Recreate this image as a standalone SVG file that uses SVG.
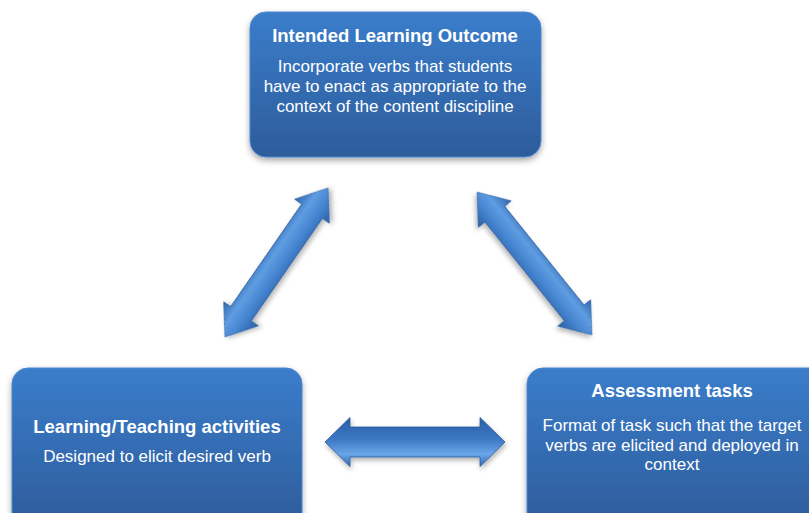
<svg xmlns="http://www.w3.org/2000/svg" width="809" height="513" viewBox="0 0 809 513">
  <defs>
    <linearGradient id="boxFill" x1="0" y1="0" x2="0" y2="1">
      <stop offset="0" stop-color="#3b7dcb"/>
      <stop offset="1" stop-color="#2d5c9b"/>
    </linearGradient>
    <linearGradient id="arrowFill" x1="0" y1="0" x2="0" y2="1">
      <stop offset="0" stop-color="#2e66ae"/>
      <stop offset="0.35" stop-color="#5f9de2"/>
      <stop offset="0.65" stop-color="#4584cf"/>
      <stop offset="1" stop-color="#2b5fa3"/>
    </linearGradient>
    <linearGradient id="arrowFillH" x1="0" y1="0" x2="0" y2="1">
      <stop offset="0" stop-color="#2a5ea6"/>
      <stop offset="0.45" stop-color="#3c78c4"/>
      <stop offset="0.75" stop-color="#6ba6e8"/>
      <stop offset="1" stop-color="#2f66ae"/>
    </linearGradient>
    <filter id="shadow" x="-10%" y="-10%" width="120%" height="125%">
      <feDropShadow dx="0" dy="3" stdDeviation="3" flood-color="#000" flood-opacity="0.35"/>
    </filter>
    <filter id="arrowShadow" x="-20%" y="-20%" width="140%" height="140%">
      <feDropShadow dx="1" dy="3" stdDeviation="2.5" flood-color="#000" flood-opacity="0.3"/>
    </filter>
  </defs>
  <style>
    .box { fill: url(#boxFill); stroke: #4a86cf; stroke-width: 1; filter: url(#shadow); }
    .title { font-family: "Liberation Sans", Arial, sans-serif; font-weight: bold; font-size: 18.5px; fill: #ffffff; text-anchor: middle; }
    .body { font-family: "Liberation Sans", Arial, sans-serif; font-size: 17px; fill: #ffffff; text-anchor: middle; }
    .arrow { fill: url(#arrowFill); stroke: #2a5d9f; stroke-width: 0.8; filter: url(#arrowShadow); }
    .arrowH { fill: url(#arrowFillH); stroke: #2a5d9f; stroke-width: 0.8; filter: url(#arrowShadow); }
  </style>

  <g id="connectors">
    <!-- outcome <-> activities -->
    <polygon class="arrow" transform="translate(276.5,262.5) rotate(-55.3)"
      points="-90.5,0 -62.5,-21 -62.5,-12.5 62.5,-12.5 62.5,-21 90.5,0 62.5,21 62.5,12.5 -62.5,12.5 -62.5,21"/>
    <!-- outcome <-> assessment -->
    <polygon class="arrow" transform="translate(534.5,263.5) rotate(51.2)"
      points="-91.5,0 -63.5,-21 -63.5,-12.5 63.5,-12.5 63.5,-21 91.5,0 63.5,21 63.5,12.5 -63.5,12.5 -63.5,21"/>
    <!-- activities <-> assessment -->
    <polygon class="arrowH" transform="translate(415,442)"
      points="-90,0 -65,-24.5 -65,-15 65,-15 65,-24.5 90,0 65,24.5 65,15 -65,15 -65,24.5"/>
  </g>

  <g id="node-outcome">
    <rect class="box" x="250" y="12" width="291" height="145" rx="16" ry="16"/>
    <text class="title" x="395" y="42">Intended Learning Outcome</text>
    <text class="body" x="395" y="72">Incorporate verbs that students</text>
    <text class="body" x="395" y="92">have to enact as appropriate to the</text>
    <text class="body" x="395" y="112">context of the content discipline</text>
  </g>

  <g id="node-activities">
    <rect class="box" x="12" y="368" width="290" height="160" rx="16" ry="16"/>
    <text class="title" x="157" y="433">Learning/Teaching activities</text>
    <text class="body" x="157" y="462">Designed to elicit desired verb</text>
  </g>

  <g id="node-assessment">
    <rect class="box" x="527" y="368" width="300" height="160" rx="16" ry="16"/>
    <text class="title" x="672" y="397">Assessment tasks</text>
    <text class="body" x="672" y="431">Format of task such that the target</text>
    <text class="body" x="672" y="451">verbs are elicited and deployed in</text>
    <text class="body" x="672" y="470">context</text>
  </g>
</svg>
